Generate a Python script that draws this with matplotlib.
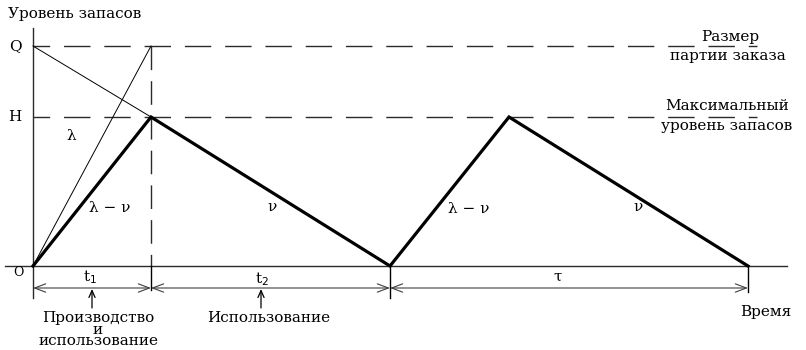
import matplotlib
matplotlib.use("Agg")
import matplotlib.pyplot as plt
from matplotlib.patches import FancyArrowPatch
from matplotlib.font_manager import FontProperties

# ---- data (time units along x, stock-level units along y) ----
cycle_times = [0, 118, 357, 476, 715]        # 0, end t1, end t2, next peak, end tau
stock_levels = [0, 149, 0, 149, 0]           # sawtooth of stock level
Q_level = 220                                # order lot size
H_level = 149                                # maximum stock level
segment_labels = ["t$_1$", "t$_2$", "τ"]
segment_bounds = [0, 118, 357, 715]
slope_labels = ["λ − ν", "ν", "λ − ν", "ν"]

FONT = "DejaVu Serif"
FS = 11

fig = plt.figure(figsize=(8.06, 3.5), dpi=100)
ax = fig.add_axes([0, 0, 1, 1])
ax.set_xlim(-33, 806 - 33)
ax.set_ylim(266 - 350, 266)
ax.axis("off")

def P(x, y):
    """pixel position -> data position (for text placement only)"""
    return x - 33, 266 - y

# font metrics for multi-line text placement
fig.canvas.draw()
_r = fig.canvas.get_renderer()
_fp = FontProperties(family=FONT, size=FS)
_w, _h, _d = _r.get_text_width_height_descent("lp", _fp, ismath=False)
ASC, DESC = _h - _d, _d

def multiline(x, first_baseline, text, interval):
    ls = max((interval - DESC) / ASC, 0.1)
    ax.text(*P(x, first_baseline - ASC), text, ha="center", va="top",
            multialignment="center", linespacing=ls, fontproperties=_fp)

def label(x, baseline, text, ha="center"):
    ax.text(*P(x, baseline), text, ha=ha, va="baseline", fontproperties=_fp)

grey = "#2a2a2a"

# axes lines
ax.plot([0, 0], [P(0, 298)[1], P(0, 28)[1]], color=grey, lw=1.0)
ax.plot([P(5, 0)[0], P(787, 0)[0]], [0, 0], color=grey, lw=1.0)

# dashed reference levels
dash = (7, (19, 10))
ax.plot([0, P(757, 0)[0]], [Q_level, Q_level], color=grey, lw=1.0, linestyle=dash)
ax.plot([0, P(757, 0)[0]], [H_level, H_level], color=grey, lw=1.0, linestyle=dash)
ax.plot([cycle_times[1]] * 2, [Q_level, 0], color=grey, lw=1.0, linestyle=(0, (17, 8)))

# thin construction lines
ax.plot([0, cycle_times[1]], [0, Q_level], color="black", lw=0.7)
ax.plot([0, cycle_times[1]], [Q_level, H_level], color="black", lw=0.7)

# main sawtooth
ax.plot(cycle_times, stock_levels, color="black", lw=2.3, solid_joinstyle="miter")

# extension lines below axis
ybot = P(0, 298)[1]
ax.plot([cycle_times[1]] * 2, [0, P(0, 290)[1]], color="black", lw=1.0)
ax.plot([cycle_times[2]] * 2, [0, ybot], color="black", lw=1.0)
ax.plot([cycle_times[4]] * 2, [0, P(0, 292)[1]], color="black", lw=1.0)

# dimension line with open arrowheads
ydim = P(0, 288)[1]
for a, b in zip(segment_bounds[:-1], segment_bounds[1:]):
    arr = FancyArrowPatch((a, ydim), (b, ydim),
                          arrowstyle="<->,head_length=0.8,head_width=0.3",
                          mutation_scale=10, color="#404040", lw=0.8,
                          shrinkA=0, shrinkB=0)
    ax.add_patch(arr)

# segment labels
for lab, (x, y) in zip(segment_labels, [(90, 277), (262, 279), (558, 277)]):
    ax.text(*P(x, y), lab, ha="center", va="center", fontsize=FS,
            family=FONT)

# up arrows
for x in (92, 261):
    ax.annotate("", xy=P(x, 289), xytext=P(x, 308),
                arrowprops=dict(arrowstyle="->,head_length=0.5,head_width=0.22",
                                color="black", lw=0.9, shrinkA=0, shrinkB=0))

# slope labels
for lab, (x, y) in zip(slope_labels, [(110, 208), (272, 207), (469, 209), (638, 207)]):
    ax.text(*P(x, y), lab, ha="center", va="center", fontsize=FS, family=FONT)
ax.text(*P(71, 136), "λ", ha="center", va="center", fontsize=FS, family=FONT)

# axis letters
ax.text(*P(15, 46), "Q", ha="center", va="center", fontsize=FS, family=FONT)
ax.text(*P(15, 117), "H", ha="center", va="center", fontsize=FS, family=FONT)
ax.text(*P(18, 273), "O", ha="center", va="center", fontsize=FS - 2, family=FONT)

# titles / annotations
label(8, 18, "Уровень запасов", ha="left")
label(766, 316, "Время")
label(730, 41, "Размер")
label(728, 60, "партии заказа")
label(727, 110, "Максимальный")
label(727, 130, "уровень запасов")
multiline(98, 322, "Производство\nи\nиспользование", 11.5)
label(269, 322, "Использование")

fig.savefig("out.png", dpi=100, facecolor="white")
